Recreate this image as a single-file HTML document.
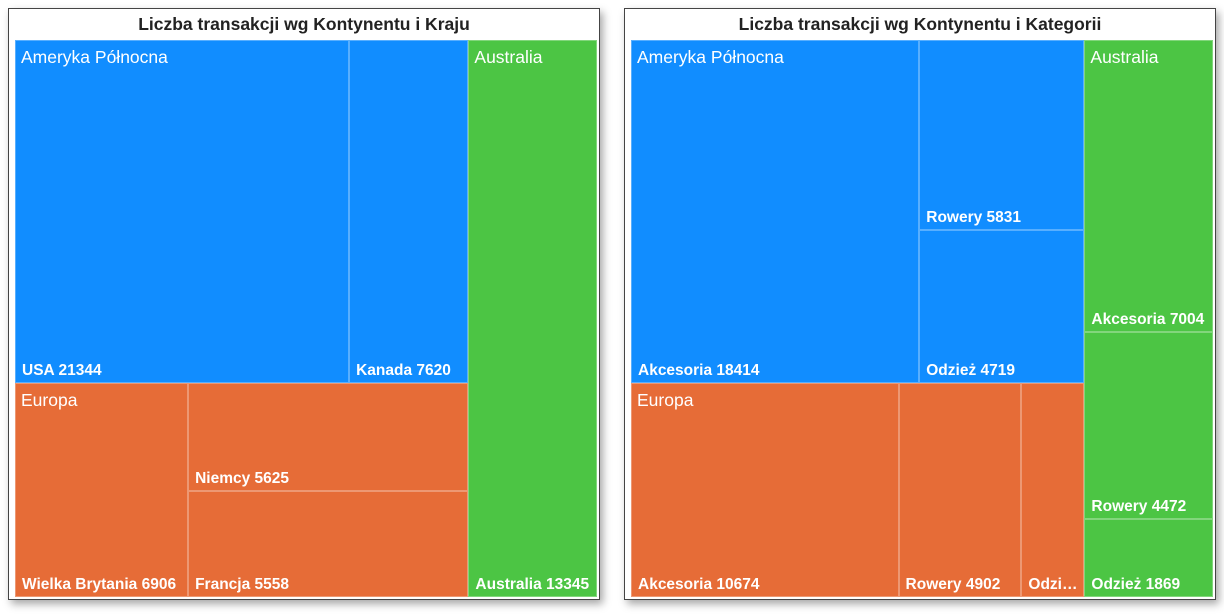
<!DOCTYPE html>
<html><head><meta charset="utf-8">
<style>
html,body{margin:0;padding:0;background:#fff;width:1224px;height:614px;overflow:hidden;font-family:"Liberation Sans",sans-serif;}
.panel{position:absolute;top:8px;width:592px;height:592px;border:1px solid #444;background:#fff;box-shadow:3px 4px 8px rgba(0,0,0,0.35);box-sizing:border-box;}
.title{position:absolute;left:0;right:0;top:5px;text-align:center;font-weight:bold;font-size:17.5px;color:#222;}
.cell{position:absolute;box-sizing:border-box;overflow:hidden;}
.leaf{border:0.5px solid rgba(255,255,255,0.3);}
.lab{position:absolute;left:6px;right:3px;bottom:2px;color:#fff;font-weight:bold;font-size:15.5px;white-space:nowrap;overflow:hidden;text-overflow:ellipsis;}
.glab{position:absolute;color:#fff;font-size:17.5px;white-space:nowrap;pointer-events:none;}
</style></head><body>
<div class="panel" id="p1" style="left:8px"><div class="title">Liczba transakcji wg Kontynentu i Kraju</div></div>
<div class="panel" id="p2" style="left:624px"><div class="title">Liczba transakcji wg Kontynentu i Kategorii</div></div>
<script>
const continents=["Ameryka Północna","Europa","Australia"];
const colors=["#118DFF","#E66C37","#4CC544"];
const countryNames=[["USA","Kanada"],["Wielka Brytania","Niemcy","Francja"],["Australia"]];
const countryValues=[[21344,7620],[6906,5625,5558],[13345]];
const catNames=[["Akcesoria","Rowery","Odzież"],["Akcesoria","Rowery","Odzież"],["Akcesoria","Rowery","Odzież"]];
const catValues=[[18414,5831,4719],[10674,4902,2513],[7004,4472,1869]];

const sum=a=>a.reduce((s,v)=>s+v,0);
function leaf(panel,x,y,w,h,color,text){
  const d=document.createElement('div');
  d.className='cell leaf';
  
  
  d.style.cssText=`left:${x}px;top:${y}px;width:${w}px;height:${h}px;background:${color}`;
  const l=document.createElement('div');l.className='lab';l.textContent=text;
  
  
  d.appendChild(l);panel.appendChild(d);
}
function glabel(panel,x,y,text){
  const g=document.createElement('div');g.className='glab';g.textContent=text;
  
  
  g.style.left=(x+6)+'px';g.style.top=(y+7)+'px';panel.appendChild(g);
}
function draw(panel,names,values,modes){
  const X=6,Y=31,W=582,H=557;
  const tots=values.map(sum),T=sum(tots);
  const n=values.length;
  const rw=W*tots[n-1]/T, lw=W-rw;
  const leftT=sum(tots.slice(0,n-1));
  const rects=[];let cy=Y;
  for(let i=0;i<n-1;i++){const h=H*tots[i]/leftT;rects.push([X,cy,lw,h]);cy+=h;}
  rects.push([X+lw,Y,rw,H]);
  rects.forEach((r,i)=>{
    const [x,y,w,h]=r,v=values[i],t=tots[i],m=modes[i];
    if(m==='v'){
      let yy=y;v.forEach((val,j)=>{const hh=h*val/t;leaf(panel,x,yy,w,hh,colors[i],names[i][j]+' '+val);yy+=hh;});
    }else if(m==='h'){
      let xx=x;v.forEach((val,j)=>{const ww=w*val/t;leaf(panel,xx,y,ww,h,colors[i],names[i][j]+' '+val);xx+=ww;});
    }else{
      const w0=w*v[0]/t;leaf(panel,x,y,w0,h,colors[i],names[i][0]+' '+v[0]);
      const rt=t-v[0];let yy=y;
      for(let j=1;j<v.length;j++){const hh=h*v[j]/rt;leaf(panel,x+w0,yy,w-w0,hh,colors[i],names[i][j]+' '+v[j]);yy+=hh;}
    }
    glabel(panel,x,y,continents[i]);
  });
}
draw(document.getElementById('p1'),countryNames,countryValues,['h','s','v']);
draw(document.getElementById('p2'),catNames,catValues,['s','h','v']);
</script>
</body></html>
